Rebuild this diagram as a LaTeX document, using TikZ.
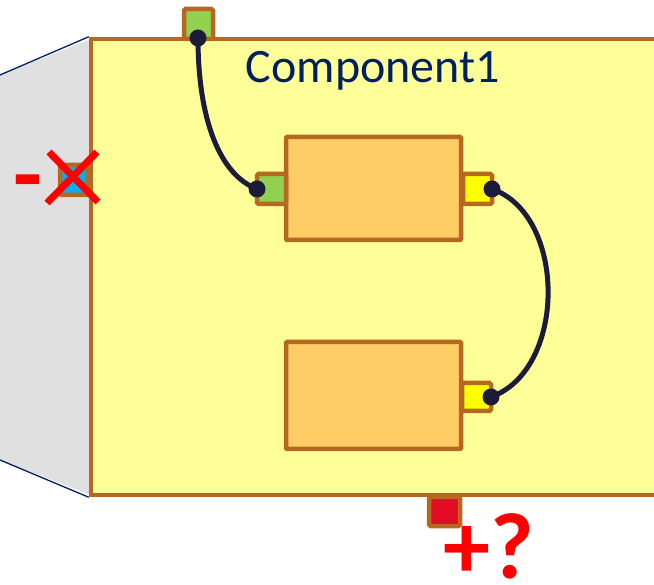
\documentclass[tikz,border=0pt]{standalone}
\usepackage{fontspec}
\setmainfont{Carlito}
\definecolor{brd}{RGB}{183,104,32}
\definecolor{compfill}{RGB}{255,255,153}
\definecolor{boxfill}{RGB}{255,204,102}
\definecolor{pgreen}{RGB}{146,208,80}
\definecolor{pyellow}{RGB}{255,255,0}
\definecolor{pblue}{RGB}{0,176,240}
\definecolor{pred}{RGB}{226,12,36}
\definecolor{navy}{RGB}{0,32,96}
\definecolor{wire}{RGB}{28,28,58}
\definecolor{sidegray}{RGB}{224,224,224}
\begin{document}
\begin{tikzpicture}[x=1pt,y=-1pt,
  outl/.style={draw=brd, line width=4.5pt},
  compbox/.style={outl, fill=compfill, inner sep=0pt},
  inbox/.style={outl, fill=boxfill, inner sep=0pt, rounded corners=1pt},
  portbox/.style={outl, inner sep=0pt, rounded corners=1.5pt, minimum width=29pt, minimum height=29pt},
  wireline/.style={draw=wire, line width=5pt},
  dot/.style={circle, fill=wire, inner sep=0pt, minimum size=17pt},
  redmark/.style={text=red, font=\bfseries\fontsize{94}{94}\selectfont, inner sep=0pt}
]
\useasboundingbox (0,0) rectangle (654,585);
% shaded perspective
\fill[sidegray] (0,75) -- (91,39) -- (91,495) -- (0,460) -- cycle;
\coordinate (sl1) at (0,75);
\coordinate (sl2) at (0,460);
% component
\node[compbox, minimum width=629pt, minimum height=456pt] (comp) at (405.5,267) {};
\draw[navy, line width=1.3pt] (sl1) -- (comp.north west);
\draw[navy, line width=1.3pt] (sl2) -- (comp.south west);
\node[text=navy, font=\fontsize{48}{48}\selectfont, anchor=base, inner sep=0pt] (title) at (373,83) {Component1};
% inner boxes
\node[inbox, minimum width=175pt, minimum height=103pt] (b1) at (373.5,188.5) {};
\node[inbox, minimum width=175pt, minimum height=107pt] (b2) at (373.5,395.5) {};
% ports
\node[portbox, fill=pgreen, minimum height=30pt] (ptop) at (198.5,24) {};
\node[portbox, fill=pgreen, minimum height=30pt] (pb1l) at (271.5,189) {};
\node[portbox, fill=pyellow, minimum height=30pt] (pb1r) at (477.5,189) {};
\node[portbox, fill=pyellow, minimum height=28pt] (pb2r) at (476.5,397) {};
\node[portbox, fill=pblue, minimum width=28pt, minimum height=30pt] (pleft) at (74,180) {};
\node[portbox, fill=pred, minimum width=31pt] (pbot) at (444.5,511.5) {};
% dots
\node[dot] (d1) at (198,38) {};
\node[dot] (d2) at (257,189) {};
\node[dot] (d3) at (492,189) {};
\node[dot] (d4) at (491,397) {};
% wires
\draw[wireline] (d1.center) .. controls (198,120) and (220,175) .. (d2.center);
\draw[wireline] (d3.center) .. controls (567,215) and (567,370) .. (d4.center);
% red marks
\coordinate (x1) at (49,152);
\coordinate (x2) at (98,202);
\coordinate (x3) at (97,152);
\coordinate (x4) at (47,203);
\draw[red, line width=7pt] (x1) -- (x2);
\draw[red, line width=7pt] (x3) -- (x4);
\node[redmark, anchor=base west] (minus) at (13,207) {-};
\node[redmark, anchor=base west] (plusq) at (443,578) {+?};
\end{tikzpicture}
\end{document}
